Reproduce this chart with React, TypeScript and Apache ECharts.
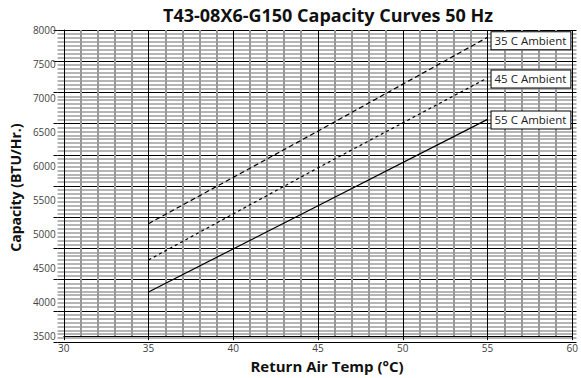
import React, { useEffect, useRef } from "react";
import * as echarts from "echarts";

const titleText = "T43-08X6-G150 Capacity Curves 50 Hz";
const xName = "Return Air Temp (°C)";
const yName = "Capacity (BTU/Hr.)";

const seriesNames = ["35 C Ambient", "45 C Ambient", "55 C Ambient"];
const temps = [35, 45, 55];
const cap35 = [5153, 6514, 7893];
const cap45 = [4619, 5974, 7296];
const cap55 = [4149, 5416, 6686];

const FONT = "Open Sans";

export default function App() {
  const ref = useRef<HTMLDivElement>(null);
  useEffect(() => {
    if (!ref.current) return;
    document.body.style.margin = "0";
    const chart = echarts.init(ref.current, null, { renderer: "svg" });
    const mk = (name: string, vals: number[], type: any, offY: number) => ({
      name,
      type: "line",
      xAxisIndex: 0,
      yAxisIndex: 0,
      data: temps.map((t, i) => [t, vals[i]]),
      symbol: "none",
      lineStyle: { color: "#000", width: 1.2, type },
      z: 5,
      endLabel: {
        show: true,
        formatter: name,
        distance: 4,
        offset: [0, offY],
        fontFamily: FONT,
        fontSize: 11.5,
        color: "#222",
        backgroundColor: "#fff",
        borderColor: "#000",
        borderWidth: 1,
        padding: [2, 4, 2, 3],
        lineHeight: 13,
      },
    });
    chart.setOption({
      animation: false,
      backgroundColor: "#fff",
      title: {
        text: titleText,
        left: 323,
        top: 1,
        textAlign: "center",
        textStyle: { fontFamily: FONT, fontWeight: "bold", fontSize: 18, color: "#111" },
      },
      grid: [
        { left: 57.5, right: 4.5, top: 30, bottom: 33 },
        { left: 57.5, right: 4.5, top: 30, height: 312 },
      ],
      xAxis: [
        {
          gridIndex: 0,
          type: "value",
          min: 30,
          max: 60,
          interval: 5,
          name: xName,
          nameLocation: "middle",
          nameGap: 19,
          nameTextStyle: {
            fontFamily: FONT,
            fontWeight: "bold",
            fontSize: 15,
            color: "#111",
            padding: [0, 0, 0, 18],
          },
          axisLine: { show: true, lineStyle: { color: "#000", width: 1 } },
          axisTick: { show: true, length: 4, lineStyle: { color: "#000" } },
          axisLabel: { fontFamily: FONT, fontSize: 10, color: "#444", margin: 7 },
          splitLine: { show: true, lineStyle: { color: "#000", width: 1 } },
          minorTick: { show: false, splitNumber: 5 },
          minorSplitLine: { show: true, lineStyle: { color: "#999", width: 2 } },
        },
        {
          gridIndex: 1,
          type: "value",
          min: 30,
          max: 60,
          show: false,
        },
      ],
      yAxis: [
        {
          gridIndex: 0,
          type: "value",
          min: 3500,
          max: 8000,
          interval: 500,
          name: yName,
          nameLocation: "middle",
          nameGap: 32,
          nameTextStyle: {
            fontFamily: FONT,
            fontWeight: "bold",
            fontSize: 14,
            color: "#111",
            padding: [0, 0, 0, -9],
          },
          axisLine: { show: true, lineStyle: { color: "#000", width: 1 } },
          axisTick: { show: false },
          axisLabel: {
            fontFamily: FONT,
            fontSize: 10,
            color: "#444",
            margin: 8,
            formatter: (v: number) => String(v),
          },
          splitLine: { show: false },
        },
        {
          gridIndex: 1,
          type: "value",
          inverse: true,
          min: 0,
          max: 10,
          interval: 1,
          axisLine: { show: false },
          axisTick: { show: true, length: 4, lineStyle: { color: "#000" } },
          axisLabel: { show: false },
          splitLine: { show: true, lineStyle: { color: "#000", width: 1 } },
          minorTick: { show: false, splitNumber: 8 },
          minorSplitLine: { show: true, lineStyle: { color: "#9c9c9c", width: 1.6 } },
        },
      ],
      series: [
        mk(seriesNames[0], cap35, [5, 3], 3.5),
        mk(seriesNames[1], cap45, [3, 3], 1),
        mk(seriesNames[2], cap55, "solid", 0.5),
      ],
    });
    return () => chart.dispose();
  }, []);
  return <div ref={ref} style={{ width: 581, height: 378 }} />;
}
